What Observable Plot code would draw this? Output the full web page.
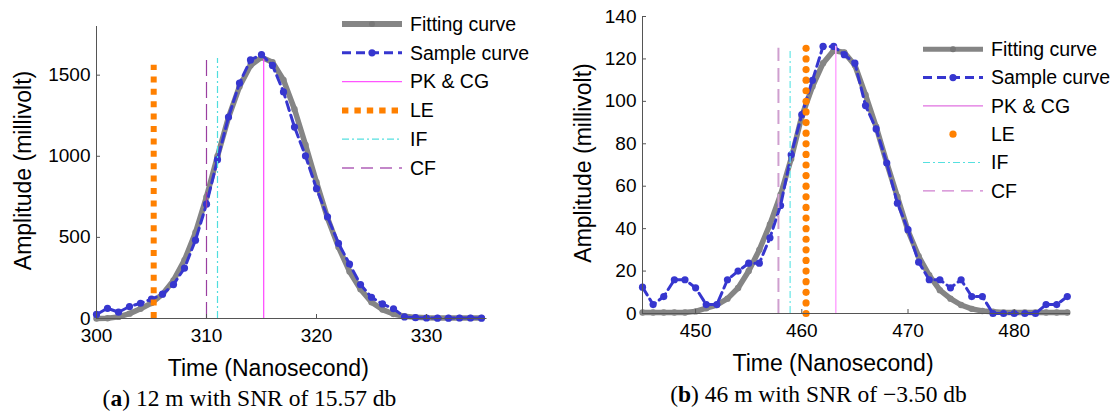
<!DOCTYPE html>
<html><head><meta charset="utf-8">
<script src="https://cdn.jsdelivr.net/npm/d3@7"></script>
<script src="https://cdn.jsdelivr.net/npm/@observablehq/plot@0.6"></script>
<style>
body{margin:0;background:#fff;}
#wrap{position:relative;width:1115px;height:416px;overflow:hidden;background:#fff;font-family:"Liberation Sans",Arial,sans-serif;}
.panel{position:absolute;top:0;}
.cap{position:absolute;font-family:"Liberation Serif","Times New Roman",serif;font-size:23.5px;white-space:nowrap;transform:translateX(-50%);line-height:28px;color:#000;}
.legend{position:absolute;left:0;top:0;overflow:visible;}
</style></head><body>
<div id="wrap"></div>
<script>
// ---------- Panel (a) data ----------
const timeA = [300,301,302,303,304,305,306,307,308,309,310,311,312,313,314,315,316,317,318,319,320,321,322,323,324,325,326,327,328,329,330,331,332,333,334,335];
const sampleA = [25,63,39,74,94,119,150,209,311,483,705,979,1242,1451,1594,1627,1560,1397,1180,1002,800,627,463,336,209,131,90,60,10,5,3,2,2,3,3,2];
const fitA = [0,2,10,30,60,95,150,235,360,530,750,1000,1240,1430,1560,1610,1580,1470,1290,1070,840,620,440,290,180,100,55,28,14,7,4,3,3,3,3,3];
const xTicksA = [300,310,320,330];
const yTicksA = [0,500,1000,1500];
const xDomainA = [300,335.5];
const yDomainA = [0,1800];
// marker times and heights: PK & CG, LE, IF, CF
const markNames = ["PK & CG","LE","IF","CF"];
const markTimeA = [315.2,305.2,311.0,310.0];
const markTopA = [1598,1561,1602,1602];

// ---------- Panel (b) data ----------
const timeB = [445,446,447,448,449,450,451,452,453,454,455,456,457,458,459,460,461,462,463,464,465,466,467,468,469,470,471,472,473,474,475,476,477,478,479,480,481,482,483,484,485];
const sampleB = [12.4,4.2,8,15.9,15.9,12.1,4.2,4.2,15.9,20,23.7,23.7,35.7,50.9,74.8,93.8,109.9,125.9,125.9,122,118,98,87,70.9,52,39.5,24.2,15.9,15.9,12.1,15.9,8,8,0,0,0,0,0,4.2,4.2,8];
const fitB = [0.5,0.5,0.5,0.5,0.5,1,2.5,4,7,12,20,30,42,56,73,93,107,118,124,123,117,103,88,71,55,39,27,18,11,7,4,2.2,1.2,0.8,0.5,0.5,0.5,0.5,0.5,0.5,0.5];
const xTicksB = [450,460,470,480];
const yTicksB = [0,20,40,60,80,100,120,140];
const xDomainB = [445,485.3];
const yDomainB = [0,140];
const markTimeB = [463.2,460.4,458.9,457.8];
const markTopB = [126,125,124.3,125];
const leDotsB = [0,5,10,15,20,25,30,35,40,45,50,55,60,65,70,75,80,85,90,95,100,105,110,115,120,125];

const legendLabels = ["Fitting curve","Sample curve","PK & CG","LE","IF","CF"];
const xLabel = "Time (Nanosecond)";
const yLabel = "Amplitude (millivolt)";
const captions = [["a"," 12 m with SNR of 15.57 db"],["b"," 46 m with SNR of \u22123.50 db"]];

const GRAY = "#858585", BLUE = "#3636cf", ORANGE = "#ff8000";

function panel(o) {
  const innerH = o.height - o.marginTop - o.marginBottom;
  const innerW = o.width - o.marginLeft - o.marginRight;
  const fit = o.time.map((t,i)=>({t, v:o.fit[i]}));
  const smp = o.time.map((t,i)=>({t, v:o.sample[i]}));
  const marks = o.markTime.map((t,i)=>({name:markNames[i], t, top:o.markTop[i]}));
  const m = n => marks.filter(d=>d.name===n);
  const le = o.leDots ? o.leDots.map(v=>({t:o.markTime[1], v})) : null;
  const st = o.styles;
  return Plot.plot({
    width:o.width, height:o.height,
    marginLeft:o.marginLeft, marginRight:o.marginRight, marginTop:o.marginTop, marginBottom:o.marginBottom,
    x:{domain:o.xDomain}, y:{domain:o.yDomain},
    style:{fontFamily:'"Liberation Sans",Arial,sans-serif', fontSize:"19px", color:"#000", background:"transparent", overflow:"visible"},
    marks:[
      Plot.line(fit,{x:"t",y:"v",stroke:GRAY,strokeWidth:5.5,strokeLinejoin:"round"}),
      Plot.dot(fit,{x:"t",y:"v",r:3.2,fill:GRAY}),
      Plot.line(smp,{x:"t",y:"v",stroke:BLUE,strokeWidth:3,strokeDasharray:"9,5"}),
      Plot.dot(smp,{x:"t",y:"v",r:3.6,fill:BLUE}),
      Plot.ruleX(m("CF"),{x:"t",y1:0,y2:"top",stroke:st.cf,strokeWidth:st.cfW,strokeDasharray:st.cfDash}),
      Plot.ruleX(m("IF"),{x:"t",y1:0,y2:"top",stroke:st.if,strokeWidth:1.2,strokeDasharray:"7,3,2,3"}),
      Plot.ruleX(m("PK & CG"),{x:"t",y1:0,y2:"top",stroke:st.pk,strokeWidth:st.pkW}),
      le ? Plot.dot(le,{x:"t",y:"v",r:3.6,fill:ORANGE})
         : Plot.ruleX(m("LE"),{x:"t",y1:0,y2:"top",stroke:ORANGE,strokeWidth:6,strokeDasharray:"6,6.4"}),
      Plot.ruleY([o.yDomain[0]],{stroke:"#555",strokeWidth:1}),
      Plot.ruleX([o.xDomain[0]],{stroke:"#555",strokeWidth:1}),
      Plot.ruleX(o.xTicks,{stroke:"#555",insetTop:innerH-4}),
      Plot.ruleY(o.yTicks,{stroke:"#555",insetRight:innerW-4}),
      Plot.axisX({ticks:o.xTicks,tickSize:0,tickPadding:10,tickFormat:d=>String(d),label:null}),
      Plot.axisY({ticks:o.yTicks,tickSize:0,tickPadding:6,tickFormat:d=>String(d),label:null}),
      Plot.text([xLabel],{text:d=>d,frameAnchor:"bottom",textAnchor:"middle",lineAnchor:"bottom",dy:57,dx:-23.5,fontSize:23}),
      Plot.text([yLabel],{text:d=>d,frameAnchor:"left",textAnchor:"middle",rotate:-90,lineAnchor:"middle",dx:o.yLabelDx,dy:-2,fontSize:23})
    ]
  });
}

function legend(o) {
  const ns = "http://www.w3.org/2000/svg";
  const svg = document.createElementNS(ns,"svg");
  svg.setAttribute("class","legend");
  svg.setAttribute("width",1115); svg.setAttribute("height",416);
  const el = (tag, attrs) => { const e=document.createElementNS(ns,tag); for (const k in attrs) e.setAttribute(k,attrs[k]); svg.appendChild(e); return e; };
  legendLabels.forEach((lab,i)=>{
    const y = o.y0 + i*o.step, x1=o.x1, x2=o.x2, xm=(x1+x2)/2;
    if (i===0) { el("line",{x1,x2,y1:y,y2:y,stroke:GRAY,"stroke-width":o.fitW}); el("circle",{cx:xm,cy:y,r:3,fill:"#777"}); }
    if (i===1) { el("line",{x1,x2,y1:y,y2:y,stroke:BLUE,"stroke-width":3,"stroke-dasharray":"9,5"}); el("circle",{cx:xm,cy:y,r:3.6,fill:BLUE}); }
    if (i===2) el("line",{x1,x2,y1:y,y2:y,stroke:o.pk,"stroke-width":1.2});
    if (i===3) { if (o.leDot) el("circle",{cx:xm,cy:y,r:3.6,fill:ORANGE}); else el("line",{x1,x2:x2-4,y1:y,y2:y,stroke:ORANGE,"stroke-width":6,"stroke-dasharray":"6.4,6"}); }
    if (i===4) el("line",{x1,x2,y1:y,y2:y,stroke:"#55e0e0","stroke-width":1.2,"stroke-dasharray":"7,3,2,3"});
    if (i===5) el("line",{x1,x2,y1:y,y2:y,stroke:o.cf,"stroke-width":1.3,"stroke-dasharray":"12,7"});
    const t = el("text",{x:o.tx,y,dy:"0.35em","font-size":"19.5px","font-family":'"Liberation Sans",Arial,sans-serif',fill:"#000"});
    t.textContent = lab;
  });
  return svg;
}

const wrap = document.getElementById("wrap");
const a = panel({time:timeA,sample:sampleA,fit:fitA,xDomain:xDomainA,yDomain:yDomainA,xTicks:xTicksA,yTicks:yTicksA,
  markTime:markTimeA,markTop:markTopA,width:560,height:384,marginLeft:96,marginRight:73.5,marginTop:26,marginBottom:66,yLabelDx:-73,
  styles:{cf:"#9a3fa0",cfW:1.2,cfDash:"16,6",if:"#4fdede",pk:"#ff44ff",pkW:1.2}});
a.classList.add("panel"); a.style.left="0px";
const b = panel({time:timeB,sample:sampleB,fit:fitB,xDomain:xDomainB,yDomain:yDomainB,xTicks:xTicksB,yTicks:yTicksB,
  markTime:markTimeB,markTop:markTopB,leDots:leDotsB,width:555,height:380,marginLeft:82,marginRight:45,marginTop:16,marginBottom:67,yLabelDx:-59,
  styles:{cf:"#cf9fcf",cfW:2,cfDash:"14,7",if:"#66e6e6",pk:"#ffaaff",pkW:1.6}});
b.classList.add("panel"); b.style.left="560px";
wrap.appendChild(a); wrap.appendChild(b);
wrap.appendChild(legend({x1:342,x2:402,tx:410,y0:24,step:28.8,fitW:6,pk:"#ff55ff",cf:"#b060b8",leDot:false}));
wrap.appendChild(legend({x1:923,x2:983,tx:991,y0:49.3,step:28.3,fitW:5,pk:"#e070e0",cf:"#d080d0",leDot:true}));
[[249.5,384,0],[818.5,380,1]].forEach(([cx,top,i])=>{
  const d=document.createElement("div"); d.className="cap"; d.style.left=cx+"px"; d.style.top=top+"px";
  d.innerHTML="(<b>"+captions[i][0]+"</b>)"+captions[i][1];
  wrap.appendChild(d);
});
</script>
</body></html>
